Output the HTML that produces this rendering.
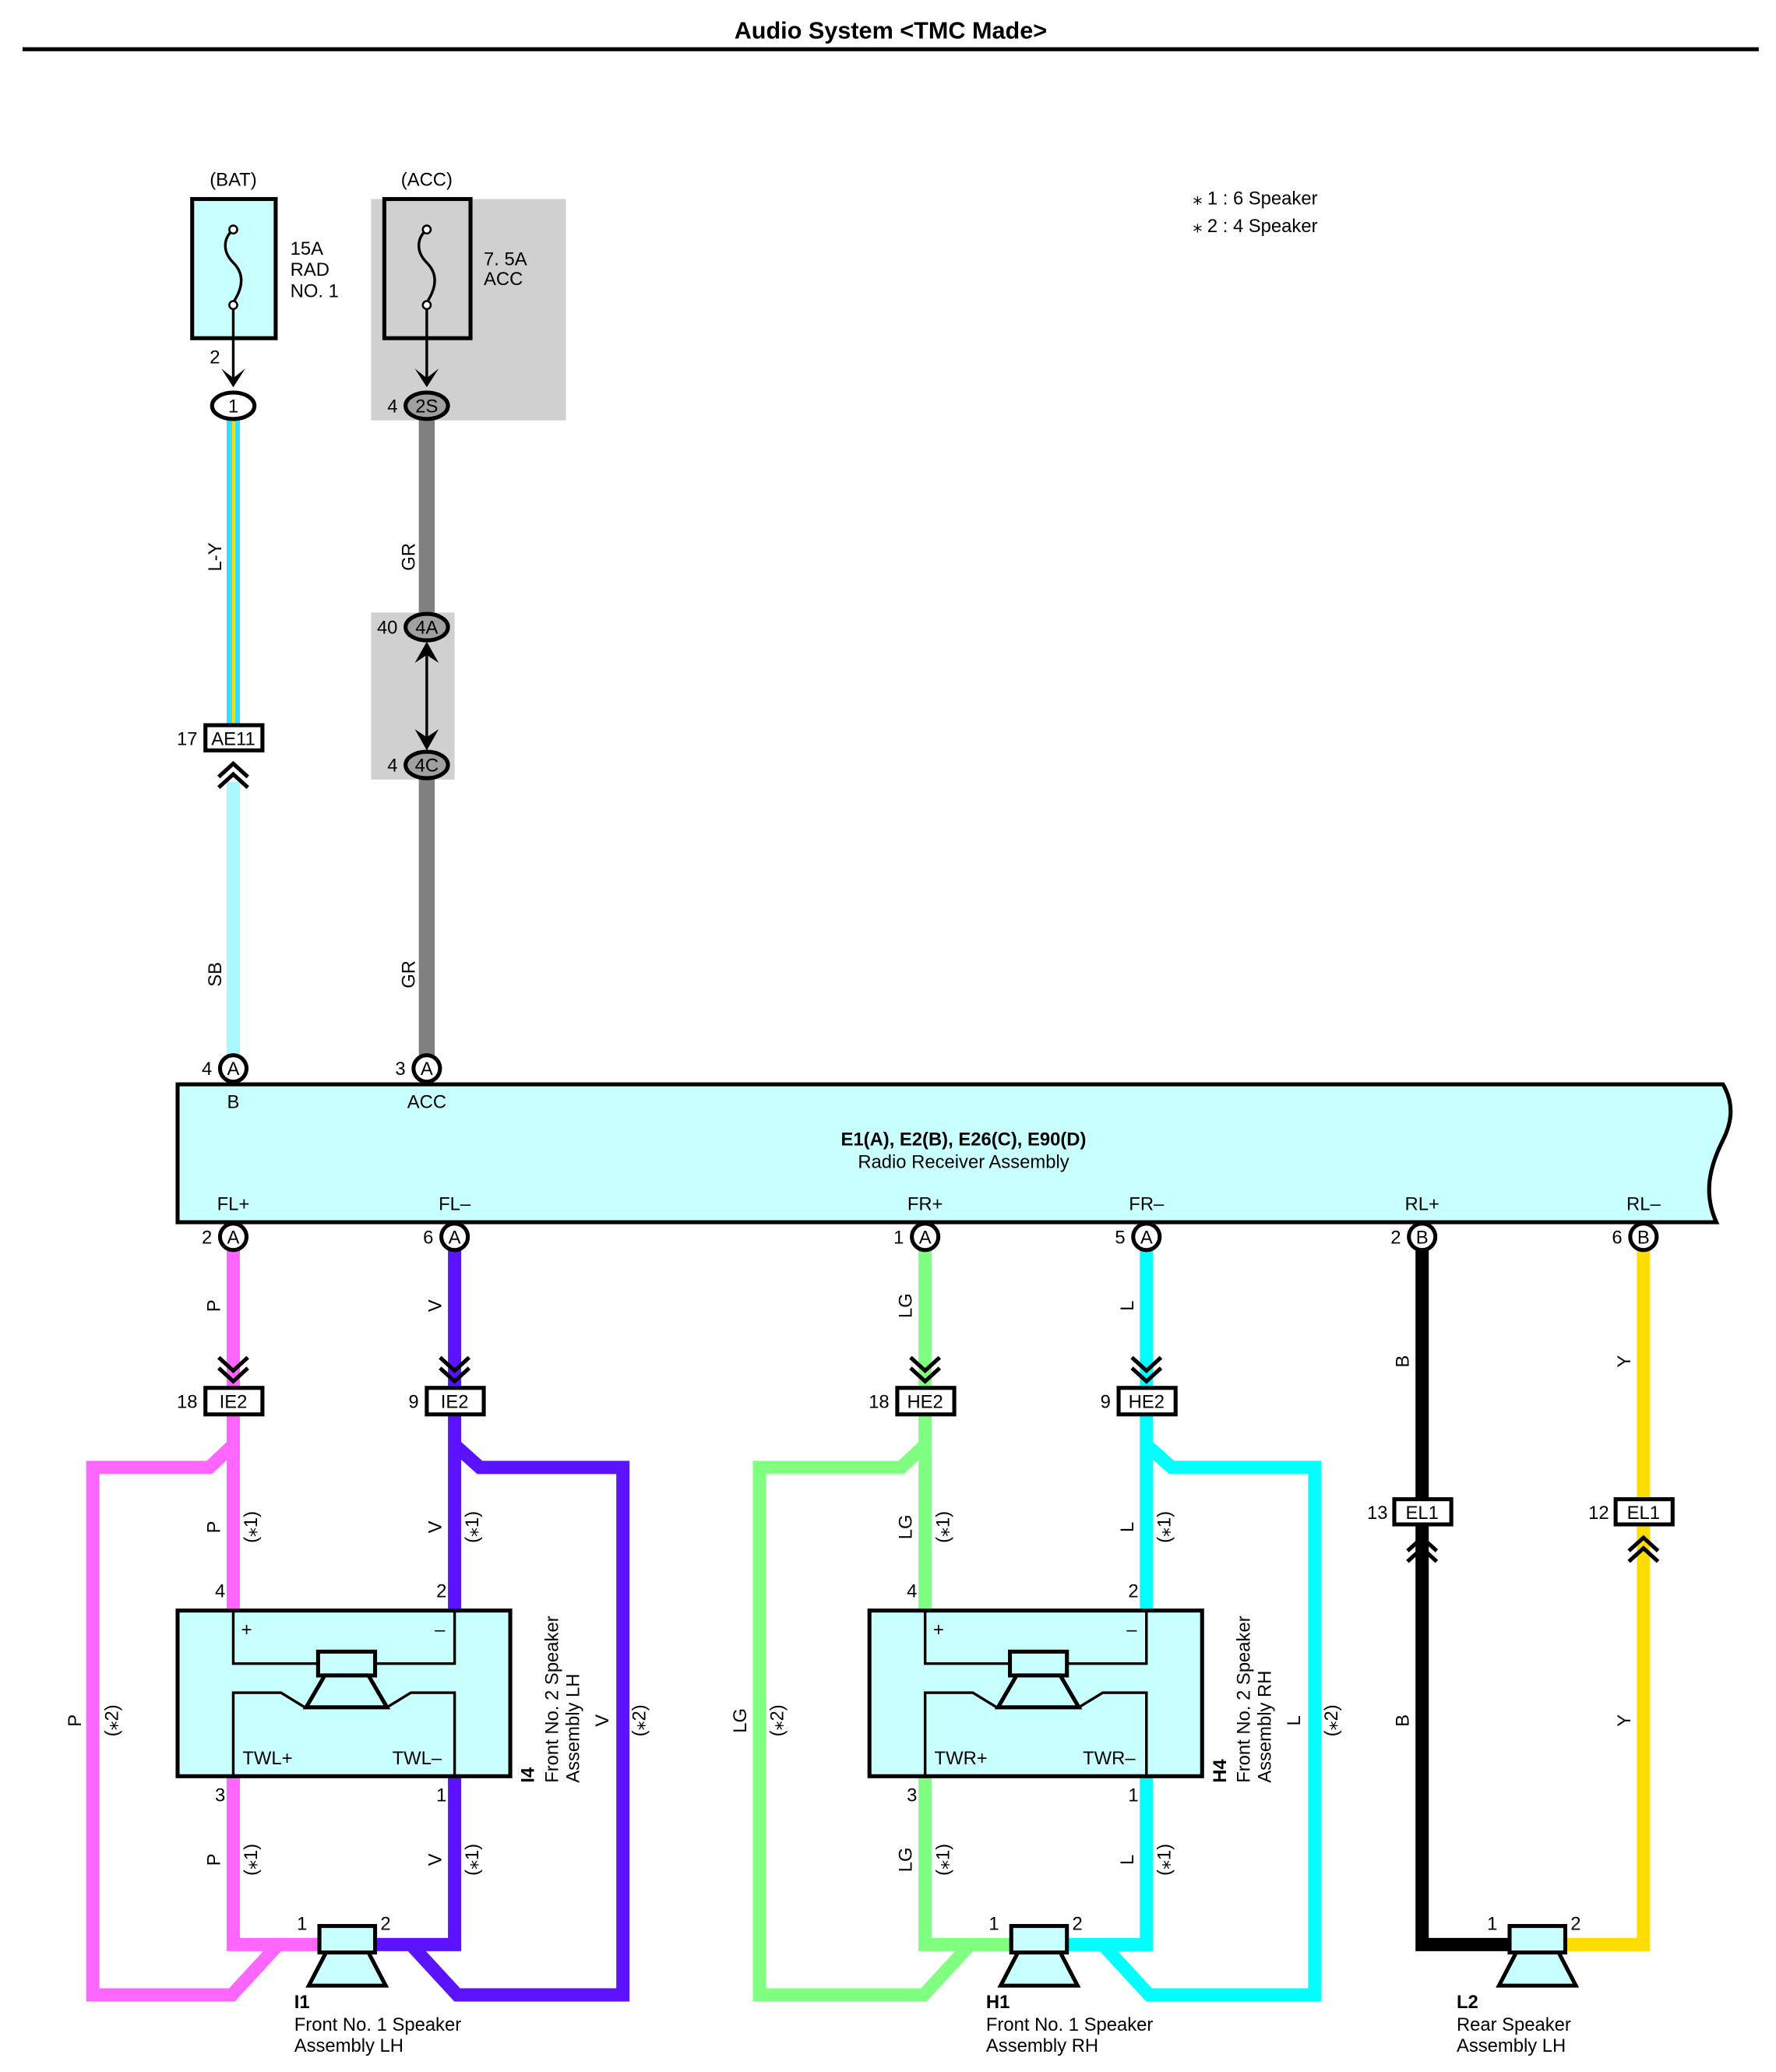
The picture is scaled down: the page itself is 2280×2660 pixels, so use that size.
<!DOCTYPE html>
<html><head><meta charset="utf-8"><style>
html,body{margin:0;padding:0;background:#fff}
svg{display:block}
text{font-family:"Liberation Sans",Arial,sans-serif;font-size:14px;fill:#000}
</style></head><body>
<svg width="2280" height="2660" viewBox="0 0 1340 1563" xmlns="http://www.w3.org/2000/svg">
<defs>
<g id="circA"><circle r="10" fill="#fff" stroke="#000" stroke-width="3"/></g>
<g id="spk">
<rect x="-21" y="-15" width="42" height="20" fill="#c8ffff" stroke="#000" stroke-width="3"/>
<path d="M-16 5 L16 5 L29 30 L-29 30 Z" fill="#c8ffff" stroke="#000" stroke-width="3"/>
</g>
<g id="chevDown" fill="none" stroke="#000" stroke-width="3">
<path d="M-11 -14 L0 -4 L11 -14"/><path d="M-11 -6 L0 4 L11 -6"/>
</g>
<g id="chevUp" fill="none" stroke="#000" stroke-width="3">
<path d="M-11 14 L0 4 L11 14"/><path d="M-11 6 L0 -4 L11 6"/>
</g>
</defs>

<text x="672" y="29" text-anchor="middle" style="font-size:18px;font-weight:bold">Audio System &lt;TMC Made&gt;</text>
<line x1="17" y1="37" x2="1327" y2="37" stroke="#000" stroke-width="3"/>

<text x="900" y="154">⁎ 1 : 6 Speaker</text>
<text x="900" y="175">⁎ 2 : 4 Speaker</text>

<!-- BAT fuse -->
<text x="176" y="140" text-anchor="middle">(BAT)</text>
<rect x="145" y="150" width="63" height="105" fill="#c8ffff" stroke="#000" stroke-width="3"/>
<path d="M176 173 C168 180,168 190,176 198 C184 206,184 216,176 228" fill="none" stroke="#000" stroke-width="2"/>
<circle cx="176" cy="173" r="3" fill="#fff" stroke="#000" stroke-width="1.5"/>
<circle cx="176" cy="230" r="3" fill="#fff" stroke="#000" stroke-width="1.5"/>
<text x="219" y="192">15A</text><text x="219" y="208">RAD</text><text x="219" y="224">NO. 1</text>
<line x1="176" y1="233" x2="176" y2="290" stroke="#000" stroke-width="2"/>
<path d="M167 278 L176 292 L185 278 L176 285 Z" fill="#000"/>
<text x="166" y="274" text-anchor="end">2</text>

<!-- ACC fuse -->
<rect x="280" y="150" width="147" height="167" fill="#d0d0d0"/>
<text x="322" y="140" text-anchor="middle">(ACC)</text>
<rect x="290" y="150" width="65" height="105" fill="#d0d0d0" stroke="#000" stroke-width="3"/>
<path d="M322 173 C314 180,314 190,322 198 C330 206,330 216,322 228" fill="none" stroke="#000" stroke-width="2"/>
<circle cx="322" cy="173" r="3" fill="#fff" stroke="#000" stroke-width="1.5"/>
<circle cx="322" cy="230" r="3" fill="#fff" stroke="#000" stroke-width="1.5"/>
<text x="365" y="200">7. 5A</text><text x="365" y="215">ACC</text>
<line x1="322" y1="233" x2="322" y2="290" stroke="#000" stroke-width="2"/>
<path d="M313 278 L322 292 L331 278 L322 285 Z" fill="#000"/>

<!-- wires top -->
<rect x="171" y="316" width="10" height="230" fill="#33ddff"/>
<rect x="175" y="316" width="2.5" height="230" fill="#ffdd00"/>
<rect x="171" y="590" width="10" height="206" fill="#aaf8ff"/>
<rect x="316" y="316" width="12" height="147" fill="#808080"/>
<rect x="280" y="462" width="63" height="126" fill="#d0d0d0"/>
<rect x="316" y="588" width="12" height="208" fill="#808080"/>

<ellipse cx="176" cy="306" rx="16" ry="10" fill="#fff" stroke="#000" stroke-width="3"/>
<text x="176" y="311" text-anchor="middle">1</text>
<ellipse cx="322" cy="306" rx="16" ry="10" fill="#a0a0a0" stroke="#000" stroke-width="3"/>
<text x="322" y="311" text-anchor="middle">2S</text>
<text x="300" y="311" text-anchor="end">4</text>

<text transform="translate(167,420) rotate(-90)" text-anchor="middle">L-Y</text>
<text transform="translate(313,420) rotate(-90)" text-anchor="middle">GR</text>
<text transform="translate(167,735) rotate(-90)" text-anchor="middle">SB</text>
<text transform="translate(313,735) rotate(-90)" text-anchor="middle">GR</text>

<rect x="155" y="547" width="43" height="19" fill="#fff" stroke="#000" stroke-width="3"/>
<text x="176" y="562" text-anchor="middle">AE11</text>
<text x="149" y="562" text-anchor="end">17</text>
<use href="#chevUp" x="176" y="580"/>

<ellipse cx="322" cy="473" rx="16" ry="10" fill="#a0a0a0" stroke="#000" stroke-width="3"/>
<text x="322" y="478" text-anchor="middle">4A</text>
<text x="300" y="478" text-anchor="end">40</text>
<ellipse cx="322" cy="577" rx="16" ry="10" fill="#a0a0a0" stroke="#000" stroke-width="3"/>
<text x="322" y="582" text-anchor="middle">4C</text>
<text x="300" y="582" text-anchor="end">4</text>
<line x1="322" y1="490" x2="322" y2="560" stroke="#000" stroke-width="2"/>
<path d="M313 500 L322 484 L331 500 L322 494 Z" fill="#000"/>
<path d="M313 550 L322 566 L331 550 L322 556 Z" fill="#000"/>

<use href="#circA" x="176" y="806"/><text x="176" y="811" text-anchor="middle">A</text><text x="160" y="811" text-anchor="end">4</text>
<use href="#circA" x="322" y="806"/><text x="322" y="811" text-anchor="middle">A</text><text x="306" y="811" text-anchor="end">3</text>

<!-- main box -->
<path d="M134 818 L1300 818 C1310 835,1305 850,1300 860 C1290 880,1285 900,1295 922 L134 922 Z" fill="#c8ffff" stroke="#000" stroke-width="3"/>
<text x="176" y="836" text-anchor="middle">B</text>
<text x="322" y="836" text-anchor="middle">ACC</text>
<text x="727" y="864" text-anchor="middle" style="font-weight:bold">E1(A), E2(B), E26(C), E90(D)</text>
<text x="727" y="881" text-anchor="middle">Radio Receiver Assembly</text>
<g text-anchor="middle">
<text x="176" y="913">FL+</text><text x="343" y="913">FL–</text><text x="698" y="913">FR+</text>
<text x="865" y="913">FR–</text><text x="1073" y="913">RL+</text><text x="1240" y="913">RL–</text>
</g>

<!-- left group wires -->
<g fill="none" stroke-width="10" stroke-linejoin="miter">
<path d="M176 943 L176 1215" stroke="#ff66ff"/>
<path d="M176 1090 L158 1107 L70 1107 L70 1505 L175 1505 L210 1467" stroke="#ff66ff"/>
<path d="M176 1340 L176 1467 L240 1467" stroke="#ff66ff"/>
<path d="M343 943 L343 1215" stroke="#5a12ff"/>
<path d="M343 1090 L362 1107 L470 1107 L470 1505 L345 1505 L310 1467" stroke="#5a12ff"/>
<path d="M343 1340 L343 1467 L283 1467" stroke="#5a12ff"/>
<!-- right group -->
<path d="M698 943 L698 1215" stroke="#80ff80"/>
<path d="M698 1090 L680 1107 L573 1107 L573 1505 L697 1505 L732 1467" stroke="#80ff80"/>
<path d="M698 1340 L698 1467 L762 1467" stroke="#80ff80"/>
<path d="M865 943 L865 1215" stroke="#00ffff"/>
<path d="M865 1090 L884 1107 L992 1107 L992 1505 L867 1505 L832 1467" stroke="#00ffff"/>
<path d="M865 1340 L865 1467 L805 1467" stroke="#00ffff"/>
<!-- rear -->
<path d="M1073 943 L1073 1467 L1140 1467" stroke="#000"/>
<path d="M1240 943 L1240 1467 L1180 1467" stroke="#ffdd00"/>
</g>

<!-- bottom connectors -->
<g text-anchor="middle">
<use href="#circA" x="176" y="933"/><text x="176" y="938">A</text><text x="160" y="938" text-anchor="end">2</text>
<use href="#circA" x="343" y="933"/><text x="343" y="938">A</text><text x="327" y="938" text-anchor="end">6</text>
<use href="#circA" x="698" y="933"/><text x="698" y="938">A</text><text x="682" y="938" text-anchor="end">1</text>
<use href="#circA" x="865" y="933"/><text x="865" y="938">A</text><text x="849" y="938" text-anchor="end">5</text>
<use href="#circA" x="1073" y="933"/><text x="1073" y="938">B</text><text x="1057" y="938" text-anchor="end">2</text>
<use href="#circA" x="1240" y="933"/><text x="1240" y="938">B</text><text x="1224" y="938" text-anchor="end">6</text>
</g>

<!-- IE2/HE2 -->
<g>
<use href="#chevDown" x="176" y="1038"/><use href="#chevDown" x="343" y="1038"/>
<use href="#chevDown" x="698" y="1038"/><use href="#chevDown" x="865" y="1038"/>
<rect x="155" y="1047" width="43" height="20" fill="#fff" stroke="#000" stroke-width="3"/>
<rect x="322" y="1047" width="43" height="20" fill="#fff" stroke="#000" stroke-width="3"/>
<rect x="677" y="1047" width="43" height="20" fill="#fff" stroke="#000" stroke-width="3"/>
<rect x="844" y="1047" width="43" height="20" fill="#fff" stroke="#000" stroke-width="3"/>
<g text-anchor="middle">
<text x="176" y="1062">IE2</text><text x="343" y="1062">IE2</text>
<text x="698" y="1062">HE2</text><text x="865" y="1062">HE2</text>
</g>
<g text-anchor="end">
<text x="149" y="1062">18</text><text x="316" y="1062">9</text>
<text x="671" y="1062">18</text><text x="838" y="1062">9</text>
<text x="1047" y="1146">13</text><text x="1214" y="1146">12</text>
</g>
<rect x="1052" y="1131" width="43" height="19" fill="#fff" stroke="#000" stroke-width="3"/>
<rect x="1219" y="1131" width="43" height="19" fill="#fff" stroke="#000" stroke-width="3"/>
<text x="1073" y="1146" text-anchor="middle">EL1</text>
<text x="1240" y="1146" text-anchor="middle">EL1</text>
<use href="#chevUp" x="1073" y="1164"/><use href="#chevUp" x="1240" y="1164"/>
</g>

<!-- speaker assemblies -->
<g id="asmL">
<rect x="134" y="1215" width="251" height="125" fill="#c8ffff" stroke="#000" stroke-width="3"/>
<path d="M176 1215 L176 1255 L240 1255 M343 1215 L343 1255 L283 1255 M176 1340 L176 1277 L212 1277 L230 1288 M343 1340 L343 1277 L310 1277 L292 1288" fill="none" stroke="#000" stroke-width="2"/>
<rect x="240" y="1246" width="43" height="18" fill="#c8ffff" stroke="#000" stroke-width="3"/>
<path d="M245 1264 L278 1264 L292 1288 L231 1288 Z" fill="#c8ffff" stroke="#000" stroke-width="3"/>
<text x="182" y="1234">+</text><text x="328" y="1234">–</text>
</g>
<text x="183" y="1331">TWL+</text><text x="296" y="1331">TWL–</text>
<use href="#asmL" x="522" y="0"/>
<text x="705" y="1331">TWR+</text><text x="817" y="1331">TWR–</text>

<!-- pin numbers -->
<g text-anchor="end">
<text x="170" y="1205">4</text><text x="337" y="1205">2</text><text x="170" y="1359">3</text><text x="337" y="1359">1</text>
<text x="692" y="1205">4</text><text x="859" y="1205">2</text><text x="692" y="1359">3</text><text x="859" y="1359">1</text>
</g>

<!-- bottom speakers -->
<use href="#spk" x="262" y="1468"/><use href="#spk" x="784" y="1468"/><use href="#spk" x="1160" y="1468"/>
<text x="224" y="1456">1</text><text x="287" y="1456">2</text>
<text x="746" y="1456">1</text><text x="809" y="1456">2</text>
<text x="1122" y="1456">1</text><text x="1185" y="1456">2</text>

<text x="222" y="1515" style="font-weight:bold">I1</text>
<text x="222" y="1532">Front No. 1 Speaker</text><text x="222" y="1548">Assembly LH</text>
<text x="744" y="1515" style="font-weight:bold">H1</text>
<text x="744" y="1532">Front No. 1 Speaker</text><text x="744" y="1548">Assembly RH</text>
<text x="1099" y="1515" style="font-weight:bold">L2</text>
<text x="1099" y="1532">Rear Speaker</text><text x="1099" y="1548">Assembly LH</text>

<!-- I4/H4 labels rotated -->
<text transform="translate(403,1345) rotate(-90)"><tspan style="font-weight:bold">I4</tspan></text>
<text transform="translate(421,1345) rotate(-90)">Front No. 2 Speaker</text>
<text transform="translate(437,1345) rotate(-90)">Assembly LH</text>
<text transform="translate(925,1345) rotate(-90)"><tspan style="font-weight:bold">H4</tspan></text>
<text transform="translate(943,1345) rotate(-90)">Front No. 2 Speaker</text>
<text transform="translate(959,1345) rotate(-90)">Assembly RH</text>

<!-- wire labels -->
<g text-anchor="middle">
<text transform="translate(166,985) rotate(-90)">P</text>
<text transform="translate(333,985) rotate(-90)">V</text>
<text transform="translate(688,985) rotate(-90)">LG</text>
<text transform="translate(855,985) rotate(-90)">L</text>
<text transform="translate(1063,1027) rotate(-90)">B</text>
<text transform="translate(1230,1027) rotate(-90)">Y</text>
<text transform="translate(1063,1298) rotate(-90)">B</text>
<text transform="translate(1230,1298) rotate(-90)">Y</text>

<text transform="translate(166,1152) rotate(-90)">P</text>
<text transform="translate(194,1152) rotate(-90)">(⁎1)</text>
<text transform="translate(333,1152) rotate(-90)">V</text>
<text transform="translate(361,1152) rotate(-90)">(⁎1)</text>
<text transform="translate(166,1403) rotate(-90)">P</text>
<text transform="translate(194,1403) rotate(-90)">(⁎1)</text>
<text transform="translate(333,1403) rotate(-90)">V</text>
<text transform="translate(361,1403) rotate(-90)">(⁎1)</text>
<text transform="translate(61,1298) rotate(-90)">P</text>
<text transform="translate(89,1298) rotate(-90)">(⁎2)</text>
<text transform="translate(459,1298) rotate(-90)">V</text>
<text transform="translate(487,1298) rotate(-90)">(⁎2)</text>

<text transform="translate(688,1152) rotate(-90)">LG</text>
<text transform="translate(716,1152) rotate(-90)">(⁎1)</text>
<text transform="translate(855,1152) rotate(-90)">L</text>
<text transform="translate(883,1152) rotate(-90)">(⁎1)</text>
<text transform="translate(688,1403) rotate(-90)">LG</text>
<text transform="translate(716,1403) rotate(-90)">(⁎1)</text>
<text transform="translate(855,1403) rotate(-90)">L</text>
<text transform="translate(883,1403) rotate(-90)">(⁎1)</text>
<text transform="translate(563,1298) rotate(-90)">LG</text>
<text transform="translate(591,1298) rotate(-90)">(⁎2)</text>
<text transform="translate(981,1298) rotate(-90)">L</text>
<text transform="translate(1009,1298) rotate(-90)">(⁎2)</text>
</g>
</svg>
</body></html>
